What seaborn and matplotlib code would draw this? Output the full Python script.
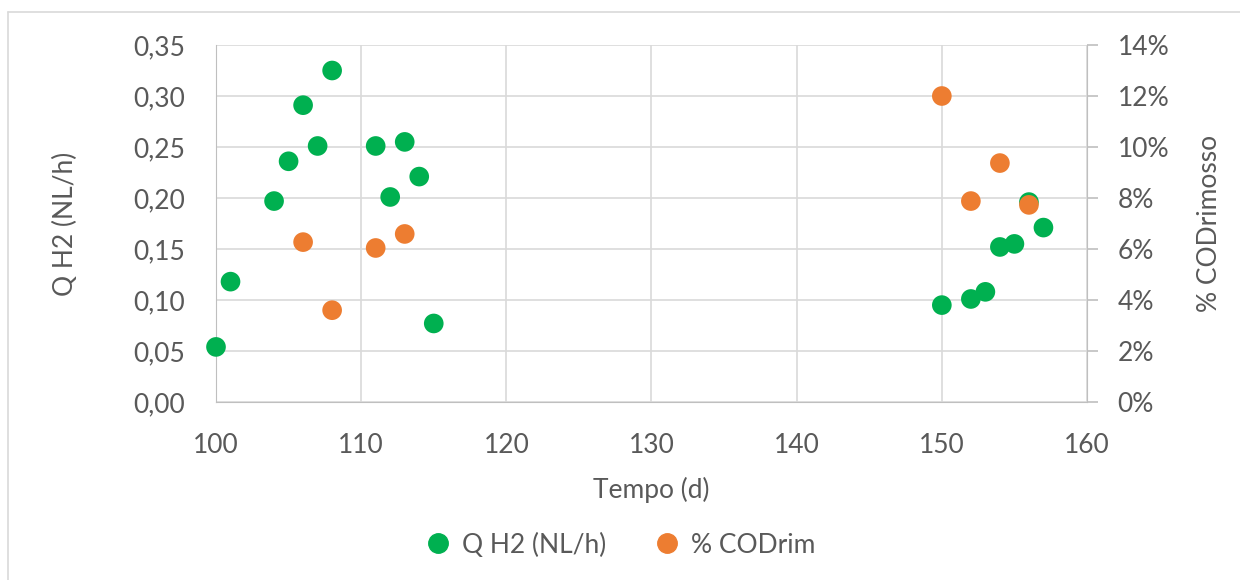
import seaborn as sns
import matplotlib.pyplot as plt
import pandas as pd
from matplotlib.ticker import FuncFormatter, MultipleLocator
from matplotlib.lines import Line2D

# data
tempo_h2 = [100, 101, 104, 105, 106, 107, 108, 111, 112, 113, 114, 115,
            150, 152, 153, 154, 155, 156, 157]
q_h2 = [0.054, 0.118, 0.197, 0.236, 0.291, 0.251, 0.325, 0.251, 0.201, 0.255, 0.221, 0.077,
        0.095, 0.101, 0.108, 0.152, 0.155, 0.196, 0.171]
tempo_cod = [106, 108, 111, 113, 150, 152, 154, 156]
cod_rim = [0.0627, 0.036, 0.0604, 0.0659, 0.120, 0.0788, 0.0937, 0.0773]

green = '#00B050'
orange = '#ED7D31'
txt = '#595959'
fs = 19

sns.set_style('white')
plt.rcParams['font.family'] = ['Lato', 'DejaVu Sans']

df1 = pd.DataFrame({'t': tempo_h2, 'q': q_h2})
df2 = pd.DataFrame({'t': tempo_cod, 'c': cod_rim})

fig = plt.figure(figsize=(12.4, 5.8), dpi=100)
ax = fig.add_axes([216/1240, 1 - 402/580, (1087-216)/1240, (402-45)/580])
ax2 = ax.twinx()

sns.scatterplot(data=df1, x='t', y='q', ax=ax, color=green, s=200, edgecolor='none', zorder=3, clip_on=False)
sns.scatterplot(data=df2, x='t', y='c', ax=ax2, color=orange, s=200, edgecolor='none', zorder=3, clip_on=False)

ax.set_xlim(100, 160)
ax.set_ylim(0, 0.35)
ax2.set_ylim(0, 0.14)
ax.xaxis.set_major_locator(MultipleLocator(10))
ax.yaxis.set_major_locator(MultipleLocator(0.05))
ax2.yaxis.set_major_locator(MultipleLocator(0.02))
ax.yaxis.set_major_formatter(FuncFormatter(lambda v, p: f'{v:.2f}'.replace('.', ',')))
ax2.yaxis.set_major_formatter(FuncFormatter(lambda v, p: f'{v*100:.0f}%'))

ax.grid(True, color='#D9D9D9', lw=1.2)
ax.set_axisbelow(True)
for a in (ax, ax2):
    for s in a.spines.values():
        s.set_visible(False)
ax.spines['bottom'].set_visible(True)
ax.spines['bottom'].set_color('#BFBFBF')
ax.spines['left'].set_visible(True)
ax.spines['left'].set_color('#BFBFBF')
ax2.spines['right'].set_visible(True)
ax2.spines['right'].set_color('#BFBFBF')

ax.tick_params(axis='y', length=0, labelsize=fs, labelcolor=txt, pad=22)
ax.tick_params(axis='x', length=0, labelsize=fs, labelcolor=txt, pad=22)
ax2.tick_params(axis='y', length=8, color='#BFBFBF', width=1.2, labelsize=fs, labelcolor=txt, pad=14)

ax.set_xlabel('Tempo (d)', fontsize=fs, color=txt, labelpad=14)
ax.set_ylabel('Q H2 (NL/h)', fontsize=fs, color=txt, labelpad=40)
ax2.set_ylabel('% CODrimosso', fontsize=fs, color=txt, labelpad=20)

handles = [Line2D([], [], marker='o', ls='', color=green, markersize=14, label='Q H2 (NL/h)'),
           Line2D([], [], marker='o', ls='', color=orange, markersize=14, label='% CODrim')]
fig.legend(handles=handles, loc='center', bbox_to_anchor=(0.5, 1 - 545/580), ncol=2,
           frameon=False, fontsize=fs, labelcolor=txt, handlelength=1.0,
           handletextpad=0.4, columnspacing=1.8)

# outer chart frame
fig.add_artist(Line2D([8/1240, 8/1240], [0, 1 - 12/580], color='#D9D9D9', lw=1.2))
fig.add_artist(Line2D([8/1240, 1], [1 - 12/580, 1 - 12/580], color='#D9D9D9', lw=1.2))

fig.savefig('out.png', dpi=100)
